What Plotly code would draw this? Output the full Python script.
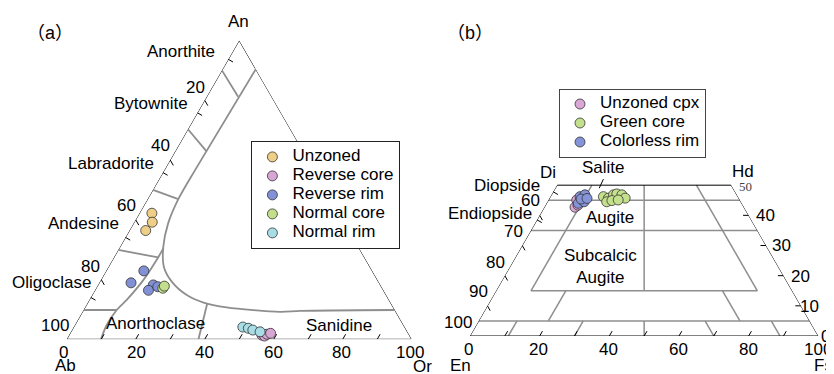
import plotly.graph_objects as go

# page body adds an 8px margin, so the figure is drawn 8px smaller and
# all reference pixel positions are shifted by OFF
OFF = 8
W, H = 834 - OFF, 374 - OFF
SANS = "Liberation Sans, Arial, Noto Sans CJK SC, sans-serif"
SERIF = "Liberation Serif, Times New Roman, serif"

# ---------------- Panel (a): feldspar An-Ab-Or (mol%) ----------------
# values given as (An, Or); Ab is the remainder to 100
unzoned_an = [42.2, 39.2, 36.4]
unzoned_or = [3.6, 5.2, 4.7]
revcore_an = [1.4, 1.1, 1.7, 2.0]
revcore_or = [55.9, 56.8, 57.2, 58.1]
revrim_an = [22.9, 18.9, 18.2, 16.4, 17.6]
revrim_or = [10.9, 9.2, 16.0, 15.5, 17.6]
normcore_an = [17.1, 17.8]
normcore_or = [19.3, 19.4]
normrim_an = [4.1, 3.7, 3.1, 2.5]
normrim_or = [49.0, 50.8, 52.4, 54.8]

# field boundaries (An, Or)
bound_an = [90.4, 56.7, 46.9, 38.8, 31.0, 24.3, 19.3, 14.8, 12.3, 10.7, 9.2, 9.5, 9.8]
bound_or = [9.6, 8.9, 8.9, 10.0, 12.5, 16.0, 20.8, 27.4, 33.5, 41.0, 57.2, 62.9, 90.2]
anorthoclase_an = [30.5, 27.4, 19.8, 13.2, 9.8, 4.8, 0.0]
anorthoclase_or = [12.8, 12.8, 12.3, 10.8, 9.6, 9.2, 9.9]
plagdiv_an = [[90.0, 81.2], [70.3, 62.8], [50.0, 46.9], [29.9, 27.4], [9.8, 9.8]]
plagdiv_or = [[0.0, 9.1], [0.0, 9.2], [0.0, 8.9], [0.0, 12.8], [0.0, 9.6]]
sanidine_an = [11.8, 0.0]
sanidine_or = [34.8, 38.2]
a_left_ticks = [20, 40, 60, 80]            # Ab %
a_name_ticks = [6.3, 24.2, 44.2, 65.9, 86.0]  # Ab % of mineral-name ticks
a_bottom_ticks = [10, 20, 30, 40, 50, 60, 70, 80, 90]  # Or %

# ---------------- Panel (b): pyroxene Wo-En-Fs (mol%) ----------------
# values given as (Wo, Fs); En is the remainder
unzcpx_wo = [42.7, 45.1, 43.4]
unzcpx_fs = [8.8, 8.1, 9.3]
green_wo = [46.2, 45.7, 46.8, 47.1, 46.8, 45.7, 44.5, 44.9, 45.1]
green_fs = [15.2, 16.9, 17.8, 18.6, 20.2, 21.7, 17.0, 18.3, 20.0]
rim_wo = [46.2, 46.8, 44.0, 44.5, 45.4, 45.6]
rim_fs = [8.5, 9.6, 9.1, 10.5, 9.2, 10.8]

# quadrilateral field lines (Wo, Fs) pairs
px_wo = [[45, 45], [35, 35], [15, 15], [5, 5], [50, 15], [50, 15], [50, 15], [5, 0],
         [15, 5], [15, 5], [5, 0], [5, 0], [5, 0], [5, 0]]
px_fs = [[0, 55], [0, 65], [10, 75], [0, 95], [10, 10], [40, 75], [25, 42.5], [47.5, 50],
         [20, 20], [65, 75], [11, 11], [30, 30], [65, 70], [84, 89]]
b_left_ticks = [10, 20, 30, 40]     # Wo %
b_name_ticks = [47.8, 38.5]         # Wo % of Diopside / Endiopside ticks
b_right_ticks = [10, 20, 30, 40]    # Wo %
b_bottom_ticks = [10, 20, 30, 40, 50, 60, 70, 80, 90]  # Fs %
salite_wo = [49.0, 52.0]
salite_fs = [12.6, 12.3]


def seg_trace(tops, rights, sub, color, width, shape='linear'):
    A, B, C = [], [], []
    for ts, rs in zip(tops, rights):
        for t, r in zip(ts, rs):
            A.append(t); C.append(r); B.append(100 - t - r)
        A.append(None); B.append(None); C.append(None)
    return go.Scatterternary(a=A, b=B, c=C, mode='lines', subplot=sub,
                             line=dict(color=color, width=width, shape=shape, smoothing=0.8),
                             showlegend=False, hoverinfo='skip', cliponaxis=False)


def pts_trace(tops, rights, sub, name, color, legend):
    return go.Scatterternary(
        a=tops, c=rights, b=[100 - t - r for t, r in zip(tops, rights)],
        mode='markers', subplot=sub, legend=legend,
        name='<span style="font-size:17px">%s</span>' % name,
        marker=dict(size=10, color=color, line=dict(color='#333', width=0.8)),
        cliponaxis=False)


fig = go.Figure()

# ----- panel (a) frame and fields
fig.add_trace(seg_trace([[100, 0, 0, 100]], [[0, 0, 100, 0]], 'ternary', 'black', 1))
fig.add_trace(seg_trace([bound_an], [bound_or], 'ternary', '#8e8e8e', 1.8, 'spline'))
fig.add_trace(seg_trace([anorthoclase_an], [anorthoclase_or], 'ternary', '#8e8e8e', 1.8, 'spline'))
fig.add_trace(seg_trace(plagdiv_an, plagdiv_or, 'ternary', '#8e8e8e', 1.8))
fig.add_trace(seg_trace([sanidine_an], [sanidine_or], 'ternary', '#8e8e8e', 1.8))
# left edge (Ab %) ticks pointing inward along constant Ab
fig.add_trace(seg_trace([[100 - v, 100 - v - 1.8] for v in a_left_ticks],
                        [[0, 1.8] for v in a_left_ticks], 'ternary', 'black', 1))
# mineral-name ticks crossing the left edge
fig.add_trace(seg_trace([[100 - v + 0.9, 100 - v - 0.9] for v in a_name_ticks],
                        [[-1.8, 1.8] for v in a_name_ticks], 'ternary', 'black', 1))
# bottom edge (Or %) ticks
fig.add_trace(seg_trace([[0, 1.7] for v in a_bottom_ticks],
                        [[v, v] for v in a_bottom_ticks], 'ternary', 'black', 1))

# ----- panel (b) frame and fields
fig.add_trace(seg_trace(px_wo, px_fs, 'ternary2', '#8e8e8e', 1.5))
fig.add_trace(seg_trace([[0, 0, 50, 50, 0]], [[0, 100, 50, 0, 0]], 'ternary2', 'black', 1))
fig.add_trace(seg_trace([[v, v - 1.6] for v in b_left_ticks],
                        [[0, 1.6] for v in b_left_ticks], 'ternary2', 'black', 1))
fig.add_trace(seg_trace([[v + 0.9, v - 0.9] for v in b_name_ticks],
                        [[-1.8, 1.8] for v in b_name_ticks], 'ternary2', 'black', 1))
fig.add_trace(seg_trace([[v, v] for v in b_right_ticks],
                        [[100 - v, 100 - v - 1.6] for v in b_right_ticks], 'ternary2', 'black', 1))
fig.add_trace(seg_trace([[0, 1.6] for v in b_bottom_ticks],
                        [[v, v] for v in b_bottom_ticks], 'ternary2', 'black', 1))
fig.add_trace(seg_trace([salite_wo], [salite_fs], 'ternary2', 'black', 1))

# ----- data points
fig.add_trace(pts_trace(unzoned_an, unzoned_or, 'ternary', 'Unzoned', '#efcf87', 'legend'))
fig.add_trace(pts_trace(revcore_an, revcore_or, 'ternary', 'Reverse core', '#d7a6d3', 'legend'))
fig.add_trace(pts_trace(revrim_an, revrim_or, 'ternary', 'Reverse rim', '#8290d6', 'legend'))
fig.add_trace(pts_trace(normcore_an, normcore_or, 'ternary', 'Normal core', '#c3df8e', 'legend'))
fig.add_trace(pts_trace(normrim_an, normrim_or, 'ternary', 'Normal rim', '#a8dde5', 'legend'))

fig.add_trace(pts_trace(unzcpx_wo, unzcpx_fs, 'ternary2', 'Unzoned cpx', '#d9a8d6', 'legend2'))
fig.add_trace(pts_trace(green_wo, green_fs, 'ternary2', 'Green core', '#c5e08d', 'legend2'))
fig.add_trace(pts_trace(rim_wo, rim_fs, 'ternary2', 'Colorless rim', '#8593d8', 'legend2'))


def fx(x):
    return (x - OFF) / W


def fy(y):
    return 1 - (y - OFF) / H


def dom(x0, side, ybot):
    h = side * 3 ** 0.5 / 2
    return dict(x=[fx(x0), fx(x0 + side)], y=[fy(ybot), fy(ybot - h)])


hidden = dict(showline=False, showgrid=False, showticklabels=False, ticks='',
              title=dict(text=''), linewidth=0)


def lab(text, x, y, xanchor='center', size=17, family=SANS, color='black'):
    return dict(text=text, x=fx(x), y=fy(y), xref='paper', yref='paper',
                xanchor=xanchor, yanchor='middle', showarrow=False,
                font=dict(size=size, family=family, color=color))


ann = [
    lab('（a）', 50, 33, size=18), lab('An', 238.3, 21),
    lab('Anorthite', 217, 51, 'right'), lab('20', 195, 87),
    lab('Bytownite', 190, 103.3, 'right'), lab('40', 160.7, 145),
    lab('Labradorite', 156, 163.3, 'right'), lab('60', 126, 205),
    lab('Andesine', 121, 223.3, 'right'), lab('80', 90.7, 266),
    lab('Oligoclase', 93, 282.7, 'right'), lab('100', 55, 325),
    lab('Anorthoclase', 155, 323.3), lab('Sanidine', 338.8, 325),
    lab('0', 63.3, 352.5), lab('20', 136.7, 352.5), lab('40', 204, 352.5),
    lab('60', 273.3, 352.5), lab('80', 341.7, 352.5), lab('100', 410, 352.5),
    lab('Ab', 65, 365), lab('Or', 422, 366),
    lab('（b）', 470, 33, size=18),
    lab('Di', 548.3, 172.7), lab('Hd', 743.3, 171.7), lab('Salite', 603.3, 167.3),
    lab('Diopside', 542, 185, 'right'), lab('60', 530, 200.7),
    lab('Endiopside', 534, 213.3, 'right'), lab('70', 513.3, 231),
    lab('80', 495, 262.7), lab('90', 478.3, 291.7), lab('100', 458.3, 322.5),
    lab('Augite', 610, 217.3), lab('Subcalcic<br>Augite', 600, 266),
    lab('50', 745, 186.7, size=13, family=SERIF, color='#444'),
    lab('40', 765, 215), lab('30', 781.7, 246), lab('20', 800, 276.5),
    lab('10', 809, 306.7), lab('0', 825, 336),
    lab('0', 468.3, 349), lab('20', 538.3, 349), lab('40', 608.3, 349),
    lab('60', 678.3, 349), lab('80', 748.3, 349), lab('100', 818.3, 349),
    lab('En', 460, 365), lab('Fs', 823, 365),
]

fig.update_layout(
    width=W, height=H, margin=dict(l=0, r=0, t=0, b=0),
    paper_bgcolor='white', plot_bgcolor='white',
    font=dict(family=SANS, color='black'),
    ternary=dict(domain=dom(66.7, 345, 339.3), sum=100, bgcolor='rgba(0,0,0,0)',
                 aaxis=hidden, baxis=hidden, caxis=hidden),
    ternary2=dict(domain=dom(470, 348.3, 336), sum=100, bgcolor='rgba(0,0,0,0)',
                  aaxis=hidden, baxis=hidden, caxis=hidden),
    legend=dict(x=fx(251), y=fy(195), xanchor='left', yanchor='middle',
                bgcolor='white', bordercolor='#222', borderwidth=1.4,
                font=dict(size=11, family=SANS, color='black')),
    legend2=dict(x=fx(559), y=fy(123), xanchor='left', yanchor='middle',
                 bgcolor='white', bordercolor='#444', borderwidth=1,
                 font=dict(size=11, family=SANS, color='black')),
    annotations=ann, showlegend=True,
)

fig.write_html("out.html")
